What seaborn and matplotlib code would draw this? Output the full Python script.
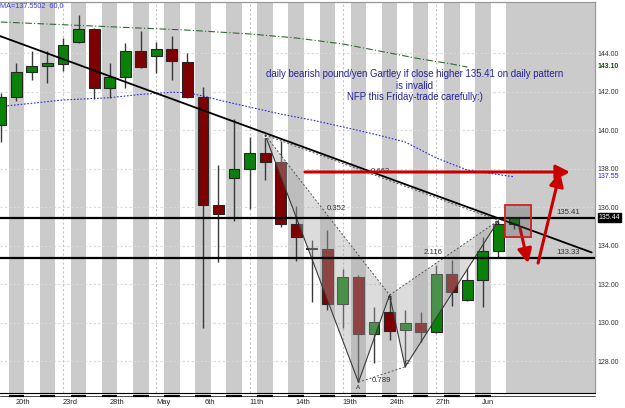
import numpy as np
import pandas as pd
import matplotlib
matplotlib.use("Agg")
import matplotlib.pyplot as plt
import matplotlib.patheffects as pe
from matplotlib.patches import Polygon, Rectangle
import seaborn as sns

# daily candles (index 0 = leftmost)
opens  = [140.26, 141.73, 143.03, 143.32, 143.41, 144.59, 145.23, 142.17, 142.77, 144.12,
          143.84, 144.21, 143.55, 141.73, 136.10, 137.49, 137.96, 138.79, 138.35, 135.12,
          133.88, 133.80, 130.95, 132.38, 129.39, 130.56, 129.61, 129.96, 129.49, 132.52,
          131.17, 132.21, 133.71, 135.12]
highs  = [141.92, 143.50, 144.12, 144.12, 144.76, 145.97, 145.30, 143.46, 144.54, 145.16,
          144.59, 144.88, 144.02, 142.25, 138.18, 140.56, 139.65, 139.74, 139.44, 136.05,
          134.29, 134.81, 132.76, 132.45, 130.82, 131.43, 130.65, 130.53, 132.99, 133.25,
          132.82, 134.46, 135.29, 135.50]
lows   = [139.39, 141.52, 142.60, 142.43, 143.08, 144.50, 141.60, 141.65, 142.20, 143.20,
          142.98, 142.60, 141.65, 129.73, 133.13, 135.29, 135.88, 137.40, 134.98, 133.21,
          131.08, 130.65, 129.73, 126.90, 127.91, 129.09, 127.70, 129.00, 129.45, 130.86,
          131.12, 130.82, 133.37, 134.86]
closes = [141.73, 143.03, 143.32, 143.46, 144.42, 145.23, 142.17, 142.77, 144.12, 143.26,
          144.21, 143.58, 141.70, 136.10, 135.64, 137.97, 138.79, 138.35, 135.12, 134.43,
          133.84, 130.95, 132.35, 129.39, 130.04, 129.57, 129.96, 129.49, 132.52, 131.60,
          132.21, 133.73, 135.12, 135.44]

# moving averages (readings at candle index)
ma_slow_idx = [0, 6, 12, 16, 19, 22, 25, 27, 29, 30]
ma_slow_val = [145.61, 145.40, 145.19, 144.99, 144.78, 144.47, 144.00, 143.69, 143.43, 143.27]
ma_fast_idx = [0, 4, 7, 9, 11, 12, 13, 14, 16, 18, 20, 22, 24, 26, 28, 30, 33]
ma_fast_val = [141.22, 141.56, 141.68, 141.85, 141.96, 141.94, 141.77, 141.56, 141.19, 140.83,
               140.52, 140.16, 139.79, 139.38, 138.55, 137.92, 137.57]

# trend line and horizontal levels
trend_idx = [-0.05, 38.0]
trend_val = [144.88, 133.64]
levels = [135.41, 133.33]
level_labels = ["135.41", "133.33"]

# gartley points X A B C D
g_names = ["X", "A", "B", "C", "D"]
g_idx = [17, 23, 25, 26, 32]
g_val = [139.74, 126.90, 131.43, 127.70, 135.30]
ratio_labels = ["0.352", "0.789", "2.116", "0.663"]
ratio_pos = [(21.6, 135.9), (24.5, 127.0), (27.8, 133.66), (24.4, 137.82)]

y_ticks = [128, 130, 132, 134, 136, 138, 140, 142, 144]
x_tick_pos = [1.45, 4.45, 7.45, 10.45, 13.45, 16.45, 19.45, 22.45, 25.45, 28.45, 31.35]
x_tick_labels = ["20th", "23rd", "28th", "May", "6th", "11th", "14th", "19th", "24th", "27th", "Jun"]

note = ("daily bearish pound/yen Gartley if close higher 135.41 on daily pattern\n"
        "is invalid\nNFP this Friday-trade carefully:)")

df = pd.DataFrame({"open": opens, "high": highs, "low": lows, "close": closes})
df["i"] = np.arange(len(df))

sns.set_theme(style="white")
plt.rcParams["font.family"] = ["Liberation Sans", "DejaVu Sans"]

fig = plt.figure(figsize=(6.25, 4.08), dpi=100)
ax = fig.add_axes([0, 1 - 393 / 408, 595 / 625, 391 / 408])
xmin, xmax = -0.05, 38.21
ymin, ymax = 126.34, 146.65
ax.set_xlim(xmin, xmax)
ax.set_ylim(ymin, ymax)

band = "#cbcbcb"
for i in range(1, len(df) - 1, 2):
    ax.axvspan(i - 0.5, i + 0.5, color=band, lw=0, zorder=0)
ax.axvspan(len(df) - 1.5, xmax, color=band, lw=0, zorder=0)

for y in y_ticks:
    ax.axhline(y, color="#d9d9d9", lw=0.8, ls=(0, (2, 2)), zorder=1)
for x in range(4, 30, 6):
    ax.axvline(x, color="#c4c4c4", lw=0.8, ls=(0, (2, 2)), zorder=1)

# moving averages
sns.lineplot(x=ma_slow_idx, y=ma_slow_val, ax=ax, color="#2f6b2f", lw=0.8,
             linestyle=(0, (6, 2, 1, 2)), zorder=2)
sns.lineplot(x=ma_fast_idx, y=ma_fast_val, ax=ax, color="#2a2aee", lw=0.8,
             linestyle=(0, (1.5, 1.5)), zorder=2)

# candles
up = df["close"] >= df["open"]
ax.vlines(df["i"], df["low"], df["high"], color="#3a3a3a", lw=1, zorder=3)
ax.bar(df["i"], df["close"] - df["open"], bottom=df["open"], width=0.7,
       color=np.where(up, "#0a820a", "#7f0000"), edgecolor="#262626", lw=0.8, zorder=4)

# gartley shading and legs
pts = list(zip(g_idx, g_val))
ax.add_patch(Polygon([pts[0], pts[1], pts[2]], closed=True, color="#a8a8a8", alpha=0.4, lw=0, zorder=5))
ax.add_patch(Polygon([pts[2], pts[3], pts[4]], closed=True, color="#a8a8a8", alpha=0.4, lw=0, zorder=5))
ax.plot(g_idx, g_val, color="#3a3a3a", lw=0.8, zorder=6)
for a, b in [(0, 2), (1, 3), (2, 4), (0, 4)]:
    ax.plot([g_idx[a], g_idx[b]], [g_val[a], g_val[b]], color="#555555", lw=0.7,
            ls=(0, (2, 2)), zorder=6)
for lab, (x, y) in zip(ratio_labels, ratio_pos):
    ax.text(x, y, lab, fontsize=5.6, color="#333333", ha="center", va="center", zorder=7)
name_off = [(0, 0), (0, -0.3), (0, -0.2), (0.1, 0.25), (-0.1, -0.15)]
for n, x, y, (dx, dy) in zip(g_names, g_idx, g_val, name_off):
    if n == "X":
        ax.plot(x, y, marker="o", ms=3, mfc="none", mec="#eeeeee", mew=0.8, zorder=7)
    else:
        ax.text(x + dx, y + dy, n, fontsize=4.5, color="#222222", ha="center", va="center", zorder=7)

# trend line and levels
sns.lineplot(x=trend_idx, y=trend_val, ax=ax, color="black", lw=1.3, zorder=8)
for lv, lab in zip(levels, level_labels):
    ax.axhline(lv, color="black", lw=1.6, zorder=8)
    ax.text(36.5, lv + 0.12, lab, fontsize=5.6, color="#333333", ha="center", va="bottom", zorder=9)

# red annotations
red = "#c80000"
arrows = [((19.56, 137.82), (36.6, 137.82)),
          ((33.39, 134.91), (33.9, 133.09)),
          ((34.55, 133.09), (35.96, 137.82))]
for (x0, y0), (x1, y1) in arrows:
    an = ax.annotate("", xy=(x1, y1), xytext=(x0, y0), zorder=10,
                     arrowprops=dict(arrowstyle="-|>,head_length=0.7,head_width=0.35",
                                     color=red, lw=2.2, mutation_scale=12, shrinkA=0, shrinkB=0))
    an.arrow_patch.set_path_effects([pe.SimplePatchShadow(offset=(1.2, -1.2), alpha=0.35), pe.Normal()])
box = Rectangle((32.42, 134.44), 1.68, 1.66, fill=False, edgecolor="#d02020", lw=1.3, zorder=10)
box.set_path_effects([pe.SimplePatchShadow(offset=(1, -1), alpha=0.3), pe.Normal()])
ax.add_patch(box)

ax.text(26.6, 143.16, note, fontsize=6.9, color="#23239a", ha="center", va="top",
        linespacing=1.2, zorder=9)
fig.text(0.0, 1 - 6 / 408, "MA=137.5502  60,0", fontsize=5.2, color="#3535e0",
         ha="left", va="center")

# axes styling
ax.yaxis.tick_right()
ax.set_yticks(y_ticks)
ax.set_yticklabels([f"{v:.2f}" for v in y_ticks], fontsize=5, color="#333333")
ax.set_xticks(x_tick_pos)
ax.set_xticklabels(x_tick_labels, fontsize=5.4, color="#222222")
ax.tick_params(axis="both", length=0)
ax.tick_params(axis="y", pad=1.5)
ax.tick_params(axis="x", pad=4)
ax.set_xlabel("")
ax.set_ylabel("")
for s in ["top", "right"]:
    ax.spines[s].set_color("#9a9a9a")
    ax.spines[s].set_linewidth(0.9)
ax.spines["left"].set_visible(False)
ax.spines["bottom"].set_color("black")
ax.spines["bottom"].set_linewidth(0.8)

tr = ax.get_xaxis_transform()
ax.plot([xmin, xmax], [-0.008, -0.008], transform=tr, color="black", lw=0.5, clip_on=False)
for i in range(1, len(df) - 1, 2):
    ax.plot([i - 0.5, i + 0.5], [-0.008, -0.008], transform=tr, color="black", lw=1.6,
            clip_on=False, solid_capstyle="butt")

ytr = ax.get_yaxis_transform()
ax.text(1.004, 143.32, "143.10", transform=ytr, fontsize=5, color="#1d4d1d",
        fontweight="bold", ha="left", va="center")
ax.text(1.004, 137.6, "137.55", transform=ytr, fontsize=5, color="#2020ff",
        ha="left", va="center")
ax.text(1.006, 135.44, "135.44", transform=ytr, fontsize=5, color="white", ha="left", va="center",
        bbox=dict(boxstyle="square,pad=0.15", fc="black", ec="black"))

if ax.get_legend() is not None:
    ax.get_legend().remove()

fig.savefig("out.png", dpi=100)
